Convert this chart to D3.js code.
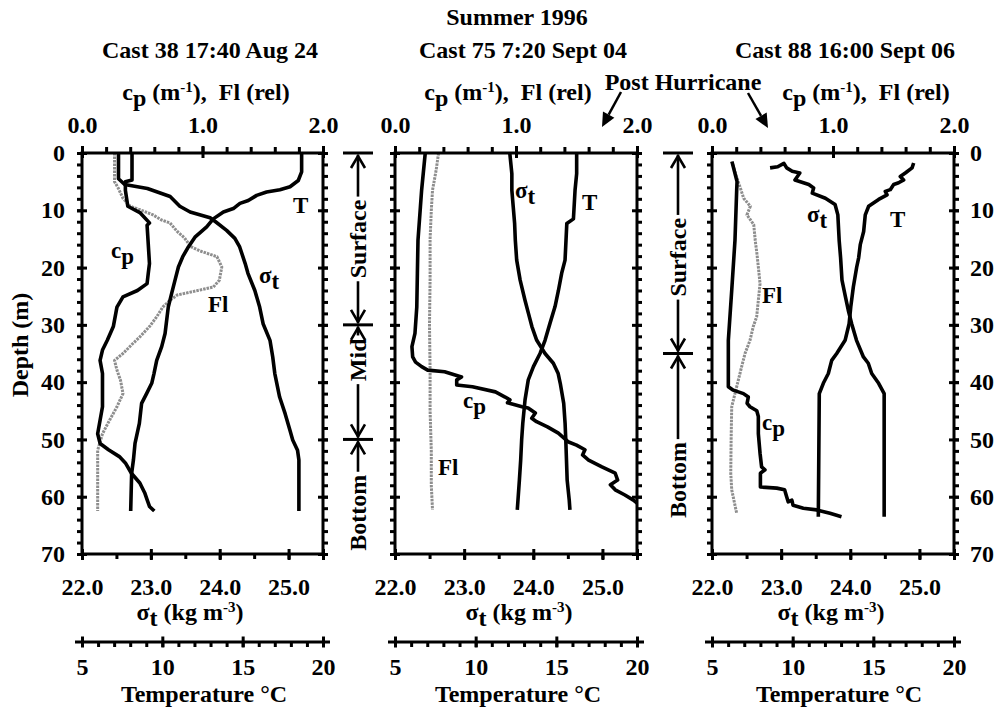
<!DOCTYPE html>
<html>
<head>
<meta charset="utf-8">
<script src="https://cdn.jsdelivr.net/npm/d3@7"></script>
<style>
  body { margin: 0; background: #fff; }
  svg text { font-family: "Liberation Serif", "Times New Roman", serif; font-weight: bold; fill: #000; font-size: 24px; white-space: pre; }
</style>
</head>
<body>
<svg id="chart" width="999" height="710"></svg>
<script>
// ---- axis ticks ----
const depthTicks = [0, 10, 20, 30, 40, 50, 60, 70];
const depthMinor = d3.range(0, 71, 2);
const sigmaTicks = [22, 23, 24, 25];
const sigmaMinor = d3.range(22, 25.51, 0.5);
const cpTicks = [0, 1, 2];
const cpMinor = d3.range(0, 2.001, 0.2);
const tempTicks = [5, 10, 15, 20];
const tempMinor = d3.range(5, 20.01, 1);

const seasonTitle = "Summer 1996";
const castTitles = ["Cast 38 17:40 Aug 24", "Cast 75 7:20 Sept 04", "Cast 88 16:00 Sept 06"];

// ---- profiles: [depth (m), value] ----
const cast38Temp = [[0,18.67],[3.3,18.67],[4.8,18.46],[5.9,17.95],[6.4,17.32],[6.8,16.49],[7.4,15.87],[8.3,15.35],[8.8,14.83],[9.7,14.42],[10.3,13.80],[11.5,13.17],[12.9,12.76],[14.7,12.03],[16.4,11.62],[18.1,11.27],[19.9,11.0],[22.2,10.79],[24.5,10.58],[26.9,10.37],[29.2,10.27],[31.5,10.17],[33.8,9.96],[36.2,9.65],[38.5,9.48],[40.2,9.34],[42,9.02],[43.7,8.71],[47.2,8.57],[50.7,8.30],[53.6,8.2],[55.9,8.09],[62.5,8.03]];
const cast38Sigma = [[0,22.53],[4.5,22.53],[5.5,22.62],[6.2,22.95],[7.6,23.28],[9.3,23.42],[10.3,23.57],[11.3,23.86],[12,23.94],[13.5,24.10],[14.9,24.22],[16.4,24.29],[19.3,24.37],[21,24.41],[24,24.51],[26.9,24.58],[29.8,24.63],[32.7,24.73],[35.6,24.77],[38.5,24.80],[42.6,24.87],[45.5,24.95],[48.4,25.02],[50.1,25.06],[51.9,25.13],[53.6,25.15],[62.5,25.15]];
const cast38Cp = [[0,0.415],[4.7,0.415],[5.0,0.36],[6.5,0.36],[9.3,0.38],[10.4,0.48],[12.2,0.56],[12.6,0.54],[19.3,0.56],[21,0.55],[22.8,0.54],[24,0.46],[25.1,0.34],[26.9,0.29],[30.3,0.26],[32.7,0.21],[34.4,0.17],[36.2,0.15],[38.5,0.17],[44.3,0.17],[49,0.13],[50.7,0.15],[51.8,0.22],[53,0.31],[54.1,0.36],[55.9,0.41],[57.6,0.48],[59.3,0.52],[60.5,0.54],[61.7,0.56],[62.5,0.60]];
const cast38Fl = [[0,0.27],[5,0.27],[6.1,0.30],[7.9,0.34],[9.3,0.40],[9.9,0.48],[10.8,0.59],[11.7,0.66],[12.2,0.73],[13.7,0.79],[14.8,0.85],[16.3,0.90],[17.1,0.98],[18.1,1.12],[19.9,1.16],[22.2,1.14],[23.4,1.09],[24.2,0.92],[24.8,0.79],[25.7,0.73],[26.9,0.67],[28.6,0.62],[30.3,0.56],[32.1,0.48],[33.3,0.42],[35,0.34],[36.2,0.27],[37.9,0.29],[39.7,0.32],[42,0.34],[44.3,0.29],[46.6,0.23],[49,0.17],[51.9,0.13],[54.8,0.13],[62.5,0.13]];

const cast75Temp = [[0,16.26],[3.6,16.26],[6.5,16.16],[11.5,16.06],[12.3,15.65],[15.2,15.60],[18.7,15.54],[21,15.33],[24,15.13],[26.8,14.92],[29.7,14.61],[32.7,14.30],[35,13.99],[37.3,13.58],[39.6,13.26],[43.1,13.06],[47.2,12.92],[50.1,12.85],[53.6,12.79],[57.1,12.71],[62.3,12.58]];
const cast75Sigma = [[0,23.66],[3.6,23.69],[6.5,23.69],[9.4,23.71],[12.3,23.73],[15.2,23.74],[18.7,23.76],[22.2,23.81],[25.7,23.88],[28,23.93],[30.3,23.98],[32.7,24.05],[35,24.17],[36.7,24.29],[38.5,24.36],[40.2,24.39],[43.7,24.44],[47.2,24.46],[50.1,24.47],[53.6,24.48],[57.1,24.49],[60.6,24.52],[62.3,24.53]];
const cast75Cp = [[0,0.25],[6.5,0.22],[9.4,0.21],[15.2,0.19],[21,0.185],[26.9,0.18],[31.5,0.165],[33.8,0.14],[35.6,0.146],[36.5,0.17],[37.3,0.22],[37.9,0.27],[38.2,0.41],[39.1,0.55],[39.6,0.51],[40.5,0.51],[40.8,0.64],[41.7,0.83],[42.6,0.91],[43.1,0.95],[43.6,0.93],[44.3,1.05],[44.5,1.10],[45.4,1.16],[46.3,1.13],[46.9,1.17],[47.8,1.26],[48.9,1.35],[50.4,1.43],[51,1.50],[51.8,1.57],[52.7,1.55],[53.6,1.60],[54.8,1.71],[55.9,1.82],[57.1,1.84],[57.9,1.78],[58.8,1.82],[59.7,1.90],[60.6,1.97],[61.1,2.0]];
const cast75Fl = [[0,0.36],[3,0.34],[6.5,0.31],[10,0.30],[15,0.29],[22,0.29],[30,0.285],[38,0.29],[45,0.29],[52,0.30],[58,0.30],[62.3,0.31]];

const cast88Temp = [[1.75,17.50],[2.6,17.40],[3.5,16.98],[4.1,16.67],[4.7,16.88],[5.2,16.57],[5.5,16.26],[6.4,16.05],[6.7,15.74],[7.3,15.85],[8.1,15.33],[9.3,14.71],[10.8,14.50],[13.7,14.40],[16.0,14.19],[18.3,14.09],[19.9,13.97],[23.4,13.76],[26.9,13.60],[29.8,13.50],[32.7,13.25],[35,12.73],[36.2,12.42],[38.5,12.21],[40.2,11.90],[42,11.65],[63.5,11.59]];
const cast88Sigma = [[2.6,22.84],[2.4,22.95],[1.8,23.04],[2.6,23.08],[3.2,23.16],[3.5,23.27],[4.7,23.20],[5.5,23.40],[6.1,23.47],[7.0,23.45],[7.9,23.64],[9.0,23.78],[10.8,23.82],[15.4,23.84],[18.3,23.86],[22.2,23.88],[25.1,23.93],[27.4,23.97],[29.8,24.02],[32.7,24.09],[35.6,24.19],[36.7,24.26],[38.5,24.31],[40.2,24.41],[42,24.49],[63.5,24.49]];
const cast88Cp = [[1.5,0.165],[5,0.207],[6.5,0.204],[15.2,0.19],[24,0.163],[32.7,0.135],[40.8,0.135],[41.4,0.176],[42,0.26],[42.6,0.30],[43.7,0.29],[44.3,0.314],[45,0.37],[46,0.383],[49,0.383],[52.4,0.397],[54.8,0.41],[55.3,0.438],[55.9,0.40],[58.3,0.40],[58.5,0.535],[58.8,0.60],[60,0.617],[60.9,0.63],[60.6,0.66],[61.5,0.67],[62,0.755],[62.3,0.865],[62.9,0.975],[63.5,1.07]];
const cast88Fl = [[1.45,0.165],[3.5,0.193],[6.1,0.234],[7.9,0.262],[9.3,0.317],[10.8,0.289],[12.5,0.345],[15.4,0.358],[17.7,0.372],[19.9,0.383],[22.8,0.397],[25.7,0.383],[28.6,0.369],[30.3,0.341],[32.7,0.314],[35,0.273],[37.3,0.245],[39.7,0.217],[42,0.19],[44.3,0.163],[50.1,0.158],[55.9,0.155],[58.8,0.163],[62.9,0.204]];

// ---- layer-bracket zones ----
const zones75 = [{from: 0, to: 30, label: "Surface", at: 15.0}, {from: 30, to: 50, label: "Mid", at: 36.1}, {from: 50, to: null, label: "Bottom", at: 62.8}];
const zones88 = [{from: 0, to: 35, label: "Surface", at: 18.2}, {from: 35, to: null, label: "Bottom", at: 57.1}];

// ---- layout ----
const svg = d3.select("#chart");
const y = d3.scaleLinear().domain([0, 70]).range([153, 554]);
const tempAxisY = 642;

const panels = [
  { x0: 82, x1: 323, title: castTitles[0], titleX: 210, cpTitleX: 206, sigmaTitleX: 190, tempTitleX: 204,
    temp: cast38Temp, sigma: cast38Sigma, cp: cast38Cp, fl: cast38Fl, depthLabels: "left",
    labels: [ {m: "T", dx: 211, d: 10.5}, {m: "c", s: "p", dx: 29, d: 18.3}, {m: "σ", s: "t", dx: 177, d: 22.7}, {m: "Fl", dx: 126, d: 27.8} ] },
  { x0: 395, x1: 637, title: castTitles[1], titleX: 523, cpTitleX: 508, sigmaTitleX: 519, tempTitleX: 518,
    temp: cast75Temp, sigma: cast75Sigma, cp: cast75Cp, fl: cast75Fl, depthLabels: null,
    labels: [ {m: "σ", s: "t", dx: 120, d: 7.9}, {m: "T", dx: 187, d: 9.9}, {m: "c", s: "p", dx: 68, d: 44.5}, {m: "Fl", dx: 43, d: 56.2} ] },
  { x0: 712, x1: 954, title: castTitles[2], titleX: 845, cpTitleX: 866, sigmaTitleX: 831, tempTitleX: 839,
    temp: cast88Temp, sigma: cast88Sigma, cp: cast88Cp, fl: cast88Fl, depthLabels: "right",
    labels: [ {m: "σ", s: "t", dx: 95, d: 12}, {m: "T", dx: 178, d: 12.9}, {m: "Fl", dx: 50, d: 26.2}, {m: "c", s: "p", dx: 50, d: 48.4} ] }
];

// text made of runs with vertical shifts (sub/superscripts)
function rich(sel, parts) {
  let cur = 0;
  parts.forEach(p => {
    const s = p.s || 0;
    const t = sel.append("tspan").attr("dy", s - cur).text(p.t);
    if (p.fs) t.attr("font-size", p.fs);
    cur = s;
  });
  return sel;
}

function styleTicks(g, w) {
  g.select(".domain").remove();
  g.selectAll(".tick line").attr("stroke", "#000").attr("stroke-width", w || 3);
  g.selectAll(".tick text").remove();
}

// season title
svg.append("text").attr("x", 517).attr("y", 25).attr("text-anchor", "middle").text(seasonTitle);

panels.forEach(p => {
  const xSigma = d3.scaleLinear().domain([22, 25.5]).range([p.x0, p.x1]);
  const xCp = d3.scaleLinear().domain([0, 2]).range([p.x0, p.x1]);
  const xT = d3.scaleLinear().domain([5, 20]).range([p.x0, p.x1]);
  const g = svg.append("g");

  // titles
  g.append("text").attr("x", p.titleX).attr("y", 58).attr("text-anchor", "middle").text(p.title);
  rich(g.append("text").attr("x", p.cpTitleX).attr("y", 100).attr("text-anchor", "middle"),
    [{t: "c"}, {t: "p", s: 6}, {t: " (m"}, {t: "-1", s: -8, fs: 15}, {t: "),  Fl (rel)"}]);

  // profiles
  const lineOf = xs => d3.line().x(d => xs(d[1])).y(d => y(d[0]));
  g.append("path").datum(p.fl).attr("d", lineOf(xCp)).attr("fill", "none")
    .attr("stroke", "#8e8e8e").attr("stroke-width", 3).attr("stroke-dasharray", "2.5 1").attr("stroke-linejoin", "round");
  [[p.cp, xCp], [p.sigma, xSigma], [p.temp, xT]].forEach(([data, xs]) => {
    g.append("path").datum(data).attr("d", lineOf(xs)).attr("fill", "none")
      .attr("stroke", "#000").attr("stroke-width", 3.6).attr("stroke-linejoin", "round").attr("stroke-linecap", "butt");
  });

  // frame
  g.append("rect").attr("x", p.x0).attr("y", y(0)).attr("width", p.x1 - p.x0).attr("height", y(70) - y(0))
    .attr("fill", "none").attr("stroke", "#000").attr("stroke-width", 3);

  // depth ticks on both sides
  g.append("g").attr("transform", `translate(${p.x0},0)`).call(d3.axisLeft(y).tickValues(depthMinor).tickSize(5)).call(styleTicks);
  g.append("g").attr("transform", `translate(${p.x0 + 5},0)`).call(d3.axisLeft(y).tickValues(depthTicks).tickSize(10)).call(styleTicks);
  g.append("g").attr("transform", `translate(${p.x1},0)`).call(d3.axisRight(y).tickValues(depthMinor).tickSize(5)).call(styleTicks);
  g.append("g").attr("transform", `translate(${p.x1 - 5},0)`).call(d3.axisRight(y).tickValues(depthTicks).tickSize(10)).call(styleTicks);

  // cp / Fl ticks on top
  g.append("g").attr("transform", `translate(0,${y(0)})`).call(d3.axisTop(xCp).tickValues(cpMinor).tickSize(6)).call(styleTicks);
  g.append("g").attr("transform", `translate(0,${y(0) + 5})`).call(d3.axisTop(xCp).tickValues(cpTicks).tickSize(12)).call(styleTicks);
  const topLab = g.append("g").attr("transform", `translate(0,${y(0)})`)
    .call(d3.axisTop(xCp).tickValues(cpTicks).tickSize(0).tickPadding(20).tickFormat(d3.format(".1f")));
  topLab.select(".domain").remove();

  // sigma-t ticks on bottom
  g.append("g").attr("transform", `translate(0,${y(70)})`).call(d3.axisBottom(xSigma).tickValues(sigmaMinor).tickSize(5)).call(styleTicks);
  g.append("g").attr("transform", `translate(0,${y(70) - 5})`).call(d3.axisBottom(xSigma).tickValues(sigmaTicks.concat([25.5])).tickSize(11)).call(styleTicks);
  const botLab = g.append("g").attr("transform", `translate(0,${y(70)})`)
    .call(d3.axisBottom(xSigma).tickValues(sigmaTicks).tickSize(0).tickPadding(24).tickFormat(d3.format(".1f")));
  botLab.select(".domain").remove();
  rich(g.append("text").attr("x", p.sigmaTitleX).attr("y", 620).attr("text-anchor", "middle"),
    [{t: "σ"}, {t: "t", s: 6}, {t: " (kg m"}, {t: "-3", s: -8, fs: 15}, {t: ")"}]);

  // temperature axis
  g.append("line").attr("x1", p.x0 - 7).attr("x2", p.x1 + 7).attr("y1", tempAxisY).attr("y2", tempAxisY)
    .attr("stroke", "#000").attr("stroke-width", 3);
  g.append("g").attr("transform", `translate(0,${tempAxisY})`).call(d3.axisBottom(xT).tickValues(tempMinor).tickSize(5)).call(styleTicks);
  g.append("g").attr("transform", `translate(0,${tempAxisY - 5.5})`).call(d3.axisBottom(xT).tickValues(tempTicks).tickSize(11)).call(styleTicks);
  const tLab = g.append("g").attr("transform", `translate(0,${tempAxisY})`)
    .call(d3.axisBottom(xT).tickValues(tempTicks).tickSize(0).tickPadding(16));
  tLab.select(".domain").remove();
  g.append("text").attr("x", p.tempTitleX).attr("y", 702).attr("text-anchor", "middle").text("Temperature °C");

  // depth labels
  if (p.depthLabels === "left") {
    const dl = g.append("g").attr("transform", `translate(${p.x0},0)`).call(d3.axisLeft(y).tickValues(depthTicks).tickSize(0).tickPadding(17));
    dl.select(".domain").remove();
  } else if (p.depthLabels === "right") {
    const dr = g.append("g").attr("transform", `translate(${p.x1},0)`).call(d3.axisRight(y).tickValues(depthTicks).tickSize(0).tickPadding(16));
    dr.select(".domain").remove();
  }

  // curve labels
  p.labels.forEach(l => {
    const parts = [{t: l.m}];
    if (l.s) parts.push({t: l.s, s: 6});
    rich(g.append("text").attr("x", p.x0 + l.dx).attr("y", y(l.d)).style("font-size", "23px"), parts);
  });
});

// axis label text inherits the serif face
svg.selectAll(".tick text").attr("font-family", null).attr("font-size", null);

// depth axis title
svg.append("text").attr("transform", "translate(28,345) rotate(-90)").attr("text-anchor", "middle").text("Depth (m)");

// layer brackets
function bracket(x, zones) {
  const g = svg.append("g");
  const stroke = sel => sel.attr("stroke", "#000").attr("stroke-width", 2.6).attr("fill", "none");
  const bars = new Set();
  zones.forEach(z => { bars.add(z.from); if (z.to !== null) bars.add(z.to); });
  bars.forEach(d => g.append("line").attr("x1", x - 15).attr("x2", x + 15).attr("y1", y(d)).attr("y2", y(d)).call(stroke).attr("stroke-width", 3));
  zones.forEach(z => {
    const c = y(z.at);
    const t = g.append("text").attr("transform", `translate(${x + 8},${c}) rotate(-90)`).attr("text-anchor", "middle").text(z.label);
    const half = t.node().getComputedTextLength() / 2 + 3;
    const top = y(z.from);
    g.append("line").attr("x1", x).attr("x2", x).attr("y1", top + 2).attr("y2", c - half).call(stroke);
    g.append("path").attr("d", `M${x - 7},${top + 15}L${x},${top + 3}L${x + 7},${top + 15}`).call(stroke);
    if (z.to !== null) {
      const bot = y(z.to);
      g.append("line").attr("x1", x).attr("x2", x).attr("y1", c + half).attr("y2", bot - 2).call(stroke);
      g.append("path").attr("d", `M${x - 7},${bot - 15}L${x},${bot - 3}L${x + 7},${bot - 15}`).call(stroke);
    }
  });
}
bracket(358, zones75);
bracket(678, zones88);

// post-hurricane note with arrows
svg.append("text").attr("x", 683).attr("y", 90).attr("text-anchor", "middle").text("Post Hurricane");
function arrow(x1, y1, x2, y2) {
  const a = Math.atan2(y2 - y1, x2 - x1), L = 14, W = 6.5;
  const bx = x2 - L * Math.cos(a), by = y2 - L * Math.sin(a);
  svg.append("line").attr("x1", x1).attr("y1", y1).attr("x2", bx).attr("y2", by).attr("stroke", "#000").attr("stroke-width", 2.5);
  svg.append("path").attr("d", `M${x2},${y2}L${bx + W * Math.sin(a)},${by - W * Math.cos(a)}L${bx - W * Math.sin(a)},${by + W * Math.cos(a)}Z`).attr("fill", "#000");
}
arrow(621, 92, 602, 127);
arrow(748, 93, 768, 128);
</script>
</body>
</html>
